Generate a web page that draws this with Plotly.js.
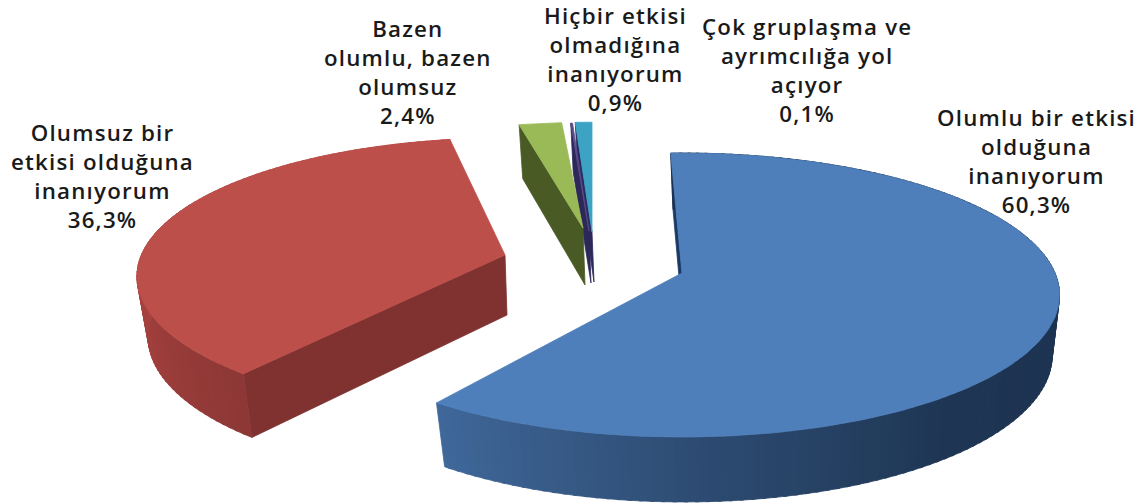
<!DOCTYPE html>
<html><head><meta charset="utf-8">
<script src="https://cdn.plot.ly/plotly-3.0.1.min.js"></script>
<style>html,body{margin:0;padding:0;background:#fff}
.annotation-text, .annotation-text tspan{letter-spacing:1.2px}</style></head>
<body><div id="chart" style="width:1142px;height:504px"></div>
<script>
// Data
const categories = ["Olumlu bir etkisi<br>olduğuna<br>inanıyorum","Olumsuz bir<br>etkisi olduğuna<br>inanıyorum","Bazen<br>olumlu, bazen<br>olumsuz","Çok gruplaşma ve<br>ayrımcılığa yol<br>açıyor","Hiçbir etkisi<br>olmadığına<br>inanıyorum"];
const values = [60.3, 36.3, 2.4, 0.1, 0.9];
const valueLabels = ["60,3%","36,3%","2,4%","0,1%","0,9%"];
// Styling
const topColors = ["#4e7fba","#bd4f4b","#9aba58","#5a4a8a","#3ca3c5"];
const edgeColors = ["#1a3a66","#7f3230","#4a5a24","#2c2858","#2a2a5c"];
const arcStops = [
  [[60,"#1c3150"],[140,"#1e3553"],[175,"#2c4a70"],[216,"#41699c"]],
  [[215,"#8a3735"],[250,"#a03f3c"],[300,"#b24a47"]]
];
// Exploded slice placement: apex, rotation offset, radius scale, wall height
const apexX = [682,505,583,589,592];
const apexY = [273,255,228,231,232];
const rotation = [-2.0,2.2,-0.7,0,0];
const radiusScale = [1,0.975,0.88,0.9,0.915];
const wallHeight = [60,60,57,52,50];
const labelX = [1036,102,408,807,615];
const labelY = [161,176,72,70,59];
// Perspective of the pie plane
const A = 373, B = 138.6, K = 0.155;

function pt(i, deg, r, bottom){
  const a = deg*Math.PI/180, u = r*Math.sin(a), v = -r*Math.cos(a), d = 1-K*v;
  const s = radiusScale[i];
  const sx = bottom ? 0.975 : 1, sy = bottom ? 1.03 : 1;
  return [apexX[i] + (bottom?2:0) + A*s*sx*u/d, apexY[i] + (bottom?wallHeight[i]:0) + B*s*sy*v/d];
}
function hex(c){return [1,3,5].map(k=>parseInt(c.substr(k,2),16));}
function stopColor(stops, a){
  if(a<=stops[0][0]) return stops[0][1];
  for(let k=1;k<stops.length;k++){
    if(a<=stops[k][0]){
      const t=(a-stops[k-1][0])/(stops[k][0]-stops[k-1][0]);
      const p=hex(stops[k-1][1]),q=hex(stops[k][1]);
      return "rgb("+p.map((x,j)=>Math.round(x+(q[j]-x)*t)).join(",")+")";
    }
  }
  return stops[stops.length-1][1];
}
function poly(pts,color,name){
  const x=pts.map(p=>p[0]).concat(pts[0][0]), y=pts.map(p=>p[1]).concat(pts[0][1]);
  return {type:"scatter",mode:"lines",x,y,fill:"toself",fillcolor:color,
    line:{color,width:0.8},hoverinfo:name?"text":"skip",text:name||"",showlegend:false};
}
const traces = [];
let cum = 0;
const starts = values.map(v=>{const s=cum;cum+=v*3.6;return s;});
[4,3,2,1,0].forEach(i=>{
  const a0 = starts[i]+rotation[i], a1 = a0+values[i]*3.6;
  // radial walls
  traces.push(poly([pt(i,a0,0,false),pt(i,a0,1,false),pt(i,a0,1,true),pt(i,a0,0,true)],edgeColors[i]));
  // curved wall
  if(i<2){
    const step=1.5;
    for(let a=a0;a<a1;a+=step){
      const b=Math.min(a+step+0.5,a1);
      traces.push(poly([pt(i,a,1,false),pt(i,b,1,false),pt(i,b,1,true),pt(i,a,1,true)],stopColor(arcStops[i],a)));
    }
  }
  // top face
  const face=[pt(i,a0,0,false)];
  for(let a=a0;a<a1;a+=1) face.push(pt(i,a,1,false));
  face.push(pt(i,a1,1,false));
  traces.push(poly(face,topColors[i],categories[i].replace(/<br>/g," ")+" "+valueLabels[i]));
});
const annotations = categories.map((c,i)=>({
  x:labelX[i],y:labelY[i],xref:"x",yref:"y",showarrow:false,align:"center",
  text:c+"<br>"+valueLabels[i],
  font:{family:"'Open Sans', sans-serif",size:22.3,color:"#1a1a1a",weight:600}
}));
Plotly.newPlot("chart",traces,{
  width:1142,height:504,margin:{l:0,r:0,t:0,b:0},
  paper_bgcolor:"#fff",plot_bgcolor:"#fff",showlegend:false,
  xaxis:{range:[0,1142],visible:false,fixedrange:true},
  yaxis:{range:[504,0],visible:false,fixedrange:true},
  annotations
},{displayModeBar:false,staticPlot:true});
</script></body></html>
